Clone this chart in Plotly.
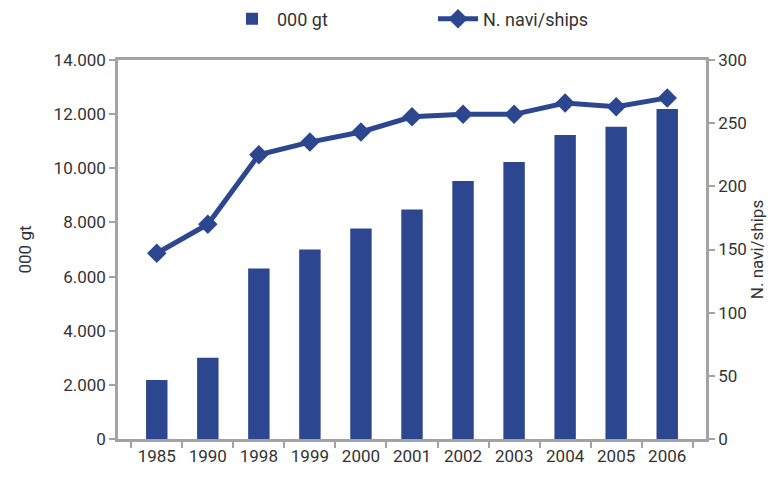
import plotly.graph_objects as go

years = ["1985", "1990", "1998", "1999", "2000", "2001", "2002", "2003", "2004", "2005", "2006"]
gt_thousands = [2180, 3000, 6300, 7000, 7780, 8480, 9530, 10230, 11230, 11530, 12190]
n_ships = [147, 170, 225, 235, 243, 255, 257, 257, 266, 263, 270]

blue = "#2c4790"
grey = "#a3a3a3"
txt = "#333333"
font_family = "Roboto, Arial, sans-serif"

W, H = 769, 469

fig = go.Figure()
fig.add_trace(go.Bar(
    x=years, y=gt_thousands, name="000 gt",
    marker=dict(color=blue, line=dict(width=0)),
    width=0.42, yaxis="y", legend="legend",
))
fig.add_trace(go.Scatter(
    x=years, y=n_ships, name="N. navi/ships",
    mode="lines+markers",
    line=dict(color=blue, width=5),
    marker=dict(symbol="diamond", size=15, color=blue),
    yaxis="y2", legend="legend2",
))

leg_common = dict(
    orientation="h", xanchor="left", yanchor="middle",
    yref="container", xref="container", y=1 - 11 / H,
    font=dict(size=18, color=txt), itemwidth=40, bgcolor="rgba(0,0,0,0)",
)

fig.update_layout(
    width=W, height=H,
    margin=dict(l=110, r=71, t=52, b=38, autoexpand=False),
    plot_bgcolor="white", paper_bgcolor="white",
    separators=",.",
    font=dict(family=font_family, size=17, color=txt),
    showlegend=True,
    legend=dict(x=219 / W, **leg_common),
    legend2=dict(x=425 / W, **leg_common),
    xaxis=dict(
        type="category", showline=True, linecolor=grey, linewidth=2.5,
        mirror=True, ticks="outside", tickson="boundaries", ticklen=6,
        tickcolor=grey, tickwidth=2, showgrid=False, zeroline=False,
        tickfont=dict(size=17, color=txt), automargin=False,
    ),
    yaxis=dict(
        range=[0, 14000], dtick=2000, tickformat=",d",
        showline=True, linecolor=grey, linewidth=2.5,
        ticks="outside", ticklen=6, tickcolor=grey, tickwidth=2,
        showgrid=False, zeroline=False, automargin=False,
        title=dict(text="000 gt", font=dict(size=17, color=txt), standoff=18),
        tickfont=dict(size=17, color=txt),
    ),
    yaxis2=dict(
        range=[0, 300], dtick=50, overlaying="y", side="right",
        showline=True, linecolor=grey, linewidth=2.5,
        ticks="outside", ticklen=6, tickcolor=grey, tickwidth=2,
        showgrid=False, zeroline=False, automargin=False,
        title=dict(text="N. navi/ships", font=dict(size=17, color=txt), standoff=6),
        tickfont=dict(size=17, color=txt),
    ),
)

fig.write_html("out.html")
